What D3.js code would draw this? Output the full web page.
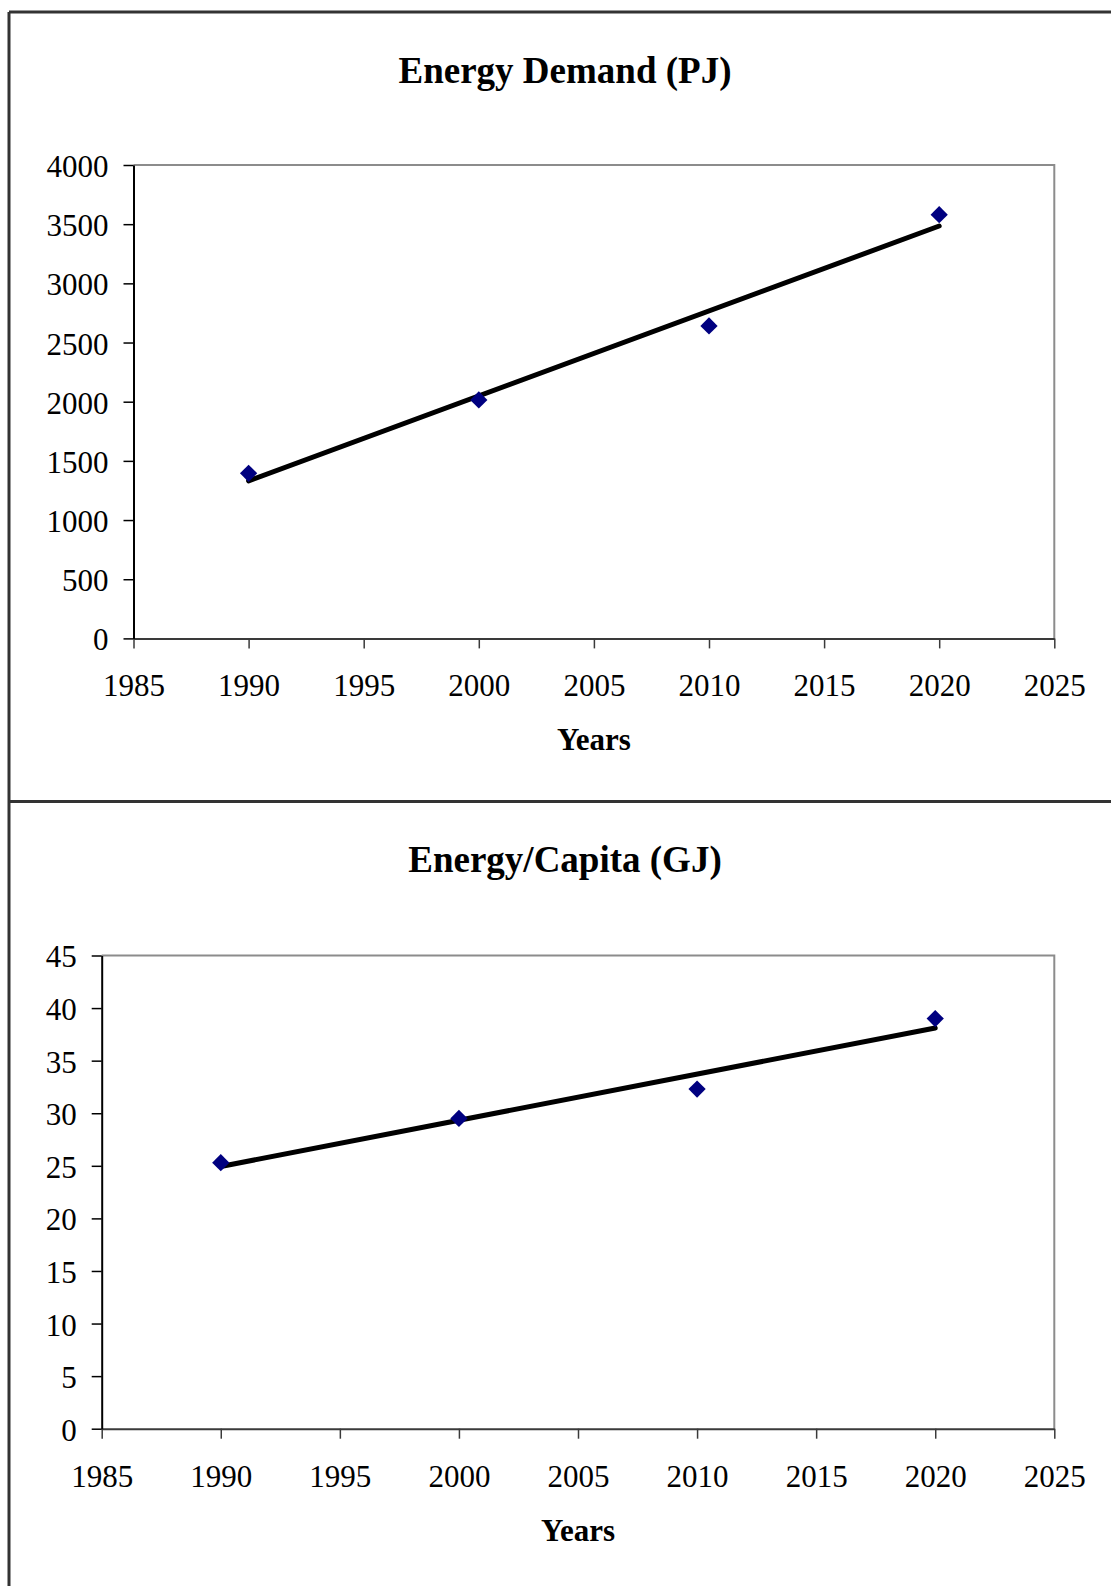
<!DOCTYPE html>
<html>
<head>
<meta charset="utf-8">
<script src="https://cdn.jsdelivr.net/npm/d3@7"></script>
<style>
  html, body { margin: 0; padding: 0; background: #fff; }
  svg { display: block; }
  text { font-family: "Liberation Serif", "Times New Roman", serif; fill: #000; }
</style>
</head>
<body>
<svg id="chart" width="1111" height="1586"></svg>
<script>
// ---- data ----
const years = [1990, 2000, 2010, 2020];
const demandPJ = [1395, 2015, 2640, 3580];
const perCapitaGJ = [25.3, 29.5, 32.3, 39.0];
const xTicks = [1985, 1990, 1995, 2000, 2005, 2010, 2015, 2020, 2025];
const demandTicks = [0, 500, 1000, 1500, 2000, 2500, 3000, 3500, 4000];
const capitaTicks = [0, 5, 10, 15, 20, 25, 30, 35, 40, 45];
const titles = ["Energy Demand (PJ)", "Energy/Capita (GJ)"];
const xLabel = "Years";

const svg = d3.select("#chart");
const W = 1111, H = 1586;

// outer frame lines
svg.append("line").attr("x1", 9).attr("x2", W).attr("y1", 12).attr("y2", 12)
  .attr("stroke", "#333").attr("stroke-width", 3);
svg.append("line").attr("x1", 9).attr("x2", 9).attr("y1", 12).attr("y2", H)
  .attr("stroke", "#333").attr("stroke-width", 3);
svg.append("line").attr("x1", 9).attr("x2", W).attr("y1", 801.5).attr("y2", 801.5)
  .attr("stroke", "#333").attr("stroke-width", 3);

function linReg(xs, ys) {
  const n = xs.length;
  const mx = d3.mean(xs), my = d3.mean(ys);
  let sxy = 0, sxx = 0;
  for (let i = 0; i < n; i++) { sxy += (xs[i] - mx) * (ys[i] - my); sxx += (xs[i] - mx) ** 2; }
  const b = sxy / sxx, a = my - b * mx;
  return x => a + b * x;
}

function drawChart(cfg) {
  const { left, right, top, bottom, yMax, yTicks, values, title, titleY } = cfg;
  const x = d3.scaleLinear().domain([1985, 2025]).range([left, right]);
  const y = d3.scaleLinear().domain([0, yMax]).range([bottom, top]);
  const g = svg.append("g");

  // title
  g.append("text").attr("x", 565).attr("y", titleY)
    .attr("text-anchor", "middle").attr("font-weight", "bold")
    .attr("font-size", 37).text(title);

  // plot frame top/right (grey)
  g.append("path")
    .attr("d", `M${left},${top}H${right}V${bottom}`)
    .attr("fill", "none").attr("stroke", "#8c8c8c").attr("stroke-width", 2);

  // x axis
  const xa = g.append("g").attr("transform", `translate(0,${bottom})`)
    .call(d3.axisBottom(x).tickValues(xTicks).tickFormat(d3.format("d"))
      .tickSize(10).tickSizeOuter(0));
  xa.select(".domain").attr("stroke", "#3a3a3a").attr("stroke-width", 2);
  xa.selectAll(".tick line").attr("stroke", "#3a3a3a").attr("stroke-width", 1.5);
  xa.selectAll(".tick text").attr("y", 58).attr("dy", null)
    .attr("font-size", 31).attr("fill", "#000");

  // y axis
  const ya = g.append("g").attr("transform", `translate(${left},0)`)
    .call(d3.axisLeft(y).tickValues(yTicks).tickFormat(d3.format("d"))
      .tickSize(10).tickSizeOuter(0).tickPadding(15));
  ya.select(".domain").attr("stroke", "#000").attr("stroke-width", 2);
  ya.selectAll(".tick line").attr("stroke", "#000").attr("stroke-width", 1.5);
  ya.selectAll(".tick text").attr("dy", "0.37em")
    .attr("font-size", 31).attr("fill", "#000");

  // axis title
  g.append("text").attr("x", (left + right) / 2).attr("y", bottom + 112)
    .attr("text-anchor", "middle").attr("font-weight", "bold")
    .attr("font-size", 31).text(xLabel);

  // trendline (linear least squares, as in the original spreadsheet)
  const f = linReg(years, values);
  const x0 = d3.min(years), x1 = d3.max(years);
  g.append("line")
    .attr("x1", x(x0)).attr("y1", y(f(x0)))
    .attr("x2", x(x1)).attr("y2", y(f(x1)))
    .attr("stroke", "#000").attr("stroke-width", 5).attr("stroke-linecap", "round");

  // diamond markers
  const diamond = d3.symbol().type(d3.symbolDiamond2).size(190);
  g.selectAll(".pt").data(years).join("path")
    .attr("class", "pt")
    .attr("d", diamond)
    .attr("transform", (d, i) => `translate(${x(d)},${y(values[i])})`)
    .attr("fill", "#000080");
}

drawChart({
  left: 133.5, right: 1054.3, top: 165, bottom: 638.4,
  yMax: 4000, yTicks: demandTicks, values: demandPJ,
  title: titles[0], titleY: 83
});
drawChart({
  left: 101.7, right: 1054.3, top: 955.5, bottom: 1428.7,
  yMax: 45, yTicks: capitaTicks, values: perCapitaGJ,
  title: titles[1], titleY: 872
});
</script>
</body>
</html>
